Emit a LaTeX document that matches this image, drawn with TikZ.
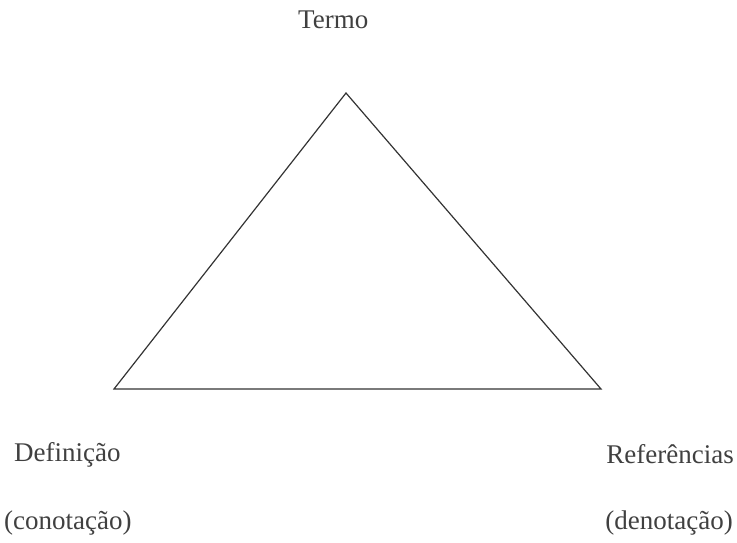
\documentclass[tikz,border=0pt]{standalone}
\usepackage{fontspec}
\setmainfont{Liberation Serif}
\begin{document}
\begin{tikzpicture}[x=1pt,y=-1pt,
  lbl/.style={inner sep=0pt,font=\fontsize{27}{31}\selectfont,text=black!75},
  edge/.style={draw=black!80,line width=1.2pt,line join=miter}]
\useasboundingbox (0,0) rectangle (737,542);
\coordinate (T) at (346,93);
\coordinate (L) at (114,389);
\coordinate (R) at (601,389);
\draw[edge] (T) -- (L) -- (R) -- cycle;
\node[lbl,anchor=base west] (termo) at (298,28) {Termo};
\node[lbl,anchor=base west] (def) at (14,461) {Definição};
\node[lbl,anchor=base west] (con) at (4,529) {(conotação)};
\node[lbl,anchor=base east] (ref) at (734,463) {Referências};
\node[lbl,anchor=base east] (den) at (733,529) {(denotação)};
\end{tikzpicture}
\end{document}
